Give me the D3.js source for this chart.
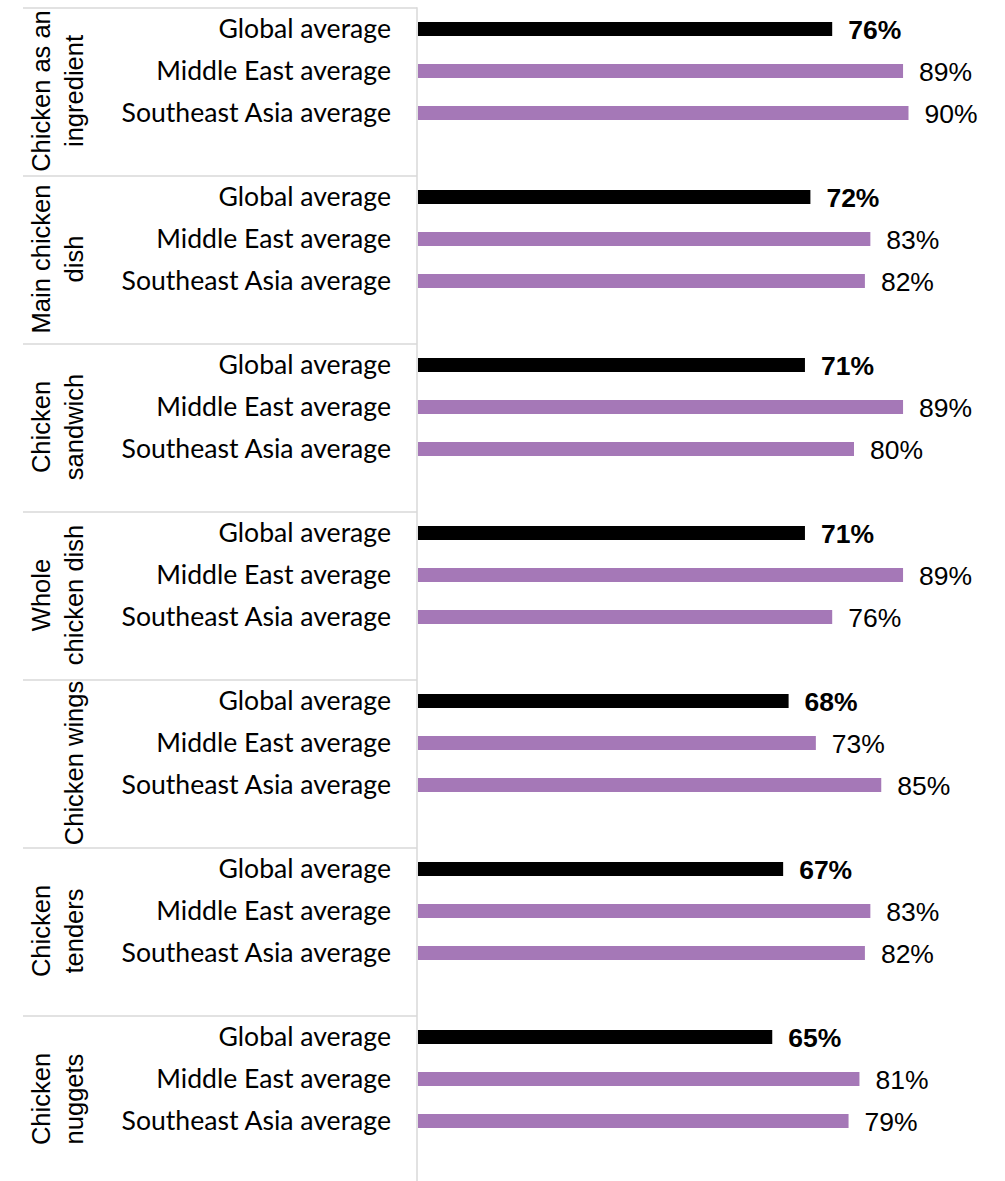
<!DOCTYPE html>
<html>
<head>
<meta charset="utf-8">
<script src="https://cdn.jsdelivr.net/npm/d3@7"></script>
<style>
  html, body { margin: 0; padding: 0; background: #fff; }
  svg { display: block; }
</style>
</head>
<body>
<svg id="chart" width="1005" height="1181"></svg>
<script>
// Dish groups (outer category level), with their wrapped label lines
const groups = [
  "Chicken as an ingredient",
  "Main chicken dish",
  "Chicken sandwich",
  "Whole chicken dish",
  "Chicken wings",
  "Chicken tenders",
  "Chicken nuggets"
];
const groupLabelLines = [
  ["Chicken as an", "ingredient"],
  ["Main chicken", "dish"],
  ["Chicken", "sandwich"],
  ["Whole", "chicken dish"],
  ["Chicken wings"],
  ["Chicken", "tenders"],
  ["Chicken", "nuggets"]
];

// Inner category level
const regions = ["Global average", "Middle East average", "Southeast Asia average"];

// Percent values per group, one list per region
const globalAvg        = [76, 72, 71, 71, 68, 67, 65];
const middleEastAvg    = [89, 83, 89, 89, 73, 83, 81];
const southeastAsiaAvg = [90, 82, 80, 76, 85, 82, 79];

const seriesValues = [globalAvg, middleEastAvg, southeastAsiaAvg];
const seriesColors = ["#000000", "#a578b7", "#a578b7"];

const rows = [];
groups.forEach((g, gi) => {
  regions.forEach((r, ri) => {
    rows.push({ group: g, region: r, ri, value: seriesValues[ri][gi] });
  });
});

const svg = d3.select("#chart");
const plotTop = 8, groupH = 168;
const axisX = 417;
const gridColor = "#d9d9d9";

// Scales
const x = d3.scaleLinear().domain([0, 100]).range([418, 963]);
const yGroup = d3.scaleBand().domain(groups).range([plotTop, plotTop + groups.length * groupH]);
// three bars occupy the first three quarters of each group, the last quarter is a gap
const yRow = d3.scaleBand().domain(regions)
  .range([0, groupH * 0.75])
  .paddingInner(2 / 3)
  .paddingOuter(1 / 3);

const rowCenter = d => yGroup(d.group) + yRow(d.region) + yRow.bandwidth() / 2;

// Group divider lines of the category table
svg.append("g")
  .selectAll("line")
  .data(groups)
  .join("line")
  .attr("x1", 23).attr("x2", axisX)
  .attr("y1", d => yGroup(d)).attr("y2", d => yGroup(d))
  .attr("stroke", gridColor)
  .attr("stroke-width", 1.5);

// Vertical category axis
svg.append("line")
  .attr("x1", axisX).attr("x2", axisX)
  .attr("y1", plotTop - 0.75).attr("y2", 1181)
  .attr("stroke", gridColor)
  .attr("stroke-width", 1.5);

// Bars
svg.append("g")
  .selectAll("rect")
  .data(rows)
  .join("rect")
  .attr("x", x(0))
  .attr("y", d => yGroup(d.group) + yRow(d.region))
  .attr("width", d => x(d.value) - x(0))
  .attr("height", yRow.bandwidth())
  .attr("fill", d => seriesColors[d.ri]);

// Value labels
svg.append("g")
  .selectAll("text")
  .data(rows)
  .join("text")
  .attr("x", d => x(d.value) + 16)
  .attr("y", d => rowCenter(d) + 9.5)
  .attr("font-family", "'Liberation Sans', Arial, sans-serif")
  .attr("font-size", 26.5)
  .attr("font-weight", d => d.ri === 0 ? "bold" : "normal")
  .attr("fill", "#000")
  .text(d => d.value + "%");

// Inner category labels
svg.append("g")
  .selectAll("text")
  .data(rows)
  .join("text")
  .attr("x", 391)
  .attr("y", d => rowCenter(d) + 8.5)
  .attr("text-anchor", "end")
  .attr("font-family", "Lato, 'Open Sans', sans-serif")
  .attr("font-size", 26.6)
  .attr("fill", "#000")
  .text(d => d.region);

// Outer (rotated) group labels; the last line sits nearest the inner labels
const lastBaseline = 83, linePitch = 33;
const groupLabels = svg.append("g")
  .selectAll("g")
  .data(groups)
  .join("g");
groupLabels.each(function (g, gi) {
  const lines = groupLabelLines[gi];
  const cy = yGroup(g) + groupH / 2 - 1;
  d3.select(this)
    .selectAll("text")
    .data(lines)
    .join("text")
    .attr("transform", (t, li) =>
      `translate(${lastBaseline - (lines.length - 1 - li) * linePitch},${cy}) rotate(-90)`)
    .attr("text-anchor", "middle")
    .attr("font-family", "'Liberation Sans', Arial, sans-serif")
    .attr("font-size", 25.5)
    .attr("fill", "#000")
    .text(t => t);
});
</script>
</body>
</html>
